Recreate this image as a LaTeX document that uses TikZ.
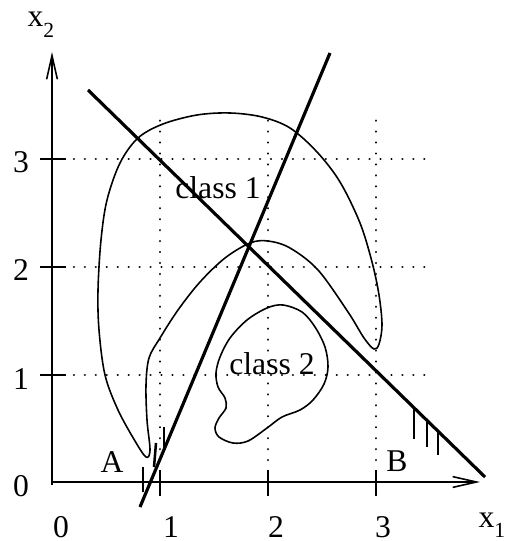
\documentclass[tikz,border=0pt]{standalone}
\usepackage{fontspec}
\setmainfont{Liberation Serif}
\usetikzlibrary{arrows.meta}
\newcommand{\subtwo}[1]{\raisebox{-3.3pt}{\fontsize{6.8}{7}\selectfont #1}}
\begin{document}
\begin{tikzpicture}[x=0.316pt,y=-0.316pt,
  axisline/.style={line width=0.7pt,-{Straight Barb[length=7.5pt,width=3.4pt,line width=0.5pt]}},
  gridline/.style={line width=0.75pt,dash pattern=on 0.01pt off 3.45pt,line cap=round},
  tickline/.style={line width=0.7pt},
  decision/.style={line width=1.0pt},
  hatch/.style={line width=0.8pt},
  boundary/.style={line width=0.5pt},
  lbl/.style={inner sep=0pt,anchor=base,font=\fontsize{10}{12}\selectfont}]
\useasboundingbox (0,0) rectangle (505,541);
% grid
\foreach \gx in {160,268,376} \draw[gridline] (\gx,482) -- (\gx,115);
\foreach \gy in {159,267,375} \draw[gridline] (52,\gy) -- (432,\gy);
% ticks
\foreach \gx in {160,268,376} \draw[tickline] (\gx,470) -- (\gx,496);
\foreach \gy in {159,267,375} \draw[tickline] (40,\gy) -- (66,\gy);
% axes
\coordinate (O) at (52,482);
\coordinate (Oy) at (52,485);
\coordinate (X1end) at (480,482);
\coordinate (X2end) at (52,52);
\draw[axisline] (O) -- (X1end);
\draw[axisline] (Oy) -- (X2end);
% axis labels
\node[lbl,anchor=base west] (x2lbl) at (27,27) {x\subtwo{2}};
\node[lbl,anchor=base west] (x1lbl) at (478,527) {x\subtwo{1}};
\node[lbl] (t0) at (61,537) {0};
\node[lbl] (t1) at (171,537) {1};
\node[lbl] (t2) at (276,537) {2};
\node[lbl] (t3) at (383,537) {3};
\node[lbl] (v3) at (21,173) {3};
\node[lbl] (v2) at (21,281) {2};
\node[lbl] (v1) at (21,389) {1};
\node[lbl] (v0) at (21,496) {0};
% class 1 region
\draw[boundary] plot[smooth cycle,tension=0.55] coordinates {
 (146,457) (135,441) (118,410) (105,375) (99,330) (98,290) (101,240) (107,200)
 (120,163) (138,138) (163,124) (197,115) (230,113) (262,117) (290,128) (317,152)
 (340,182) (360,223) (372,262) (379,295) (382,325) (379,344) (374,349) (364,338)
 (348,312) (318,270) (290,248) (268,241) (250,243) (225,258) (200,282) (178,310)
 (160,338) (149,358) (146,385) (147,420) (150,450)};
% class 2 region
\draw[boundary] plot[smooth cycle,tension=0.55] coordinates {
 (283,305) (267,308) (247,320) (230,338) (220,357) (216,373) (218,387) (225,398)
 (226,408) (219,418) (215,428) (219,437) (233,443) (248,441) (267,428) (282,417)
 (300,410) (313,400) (324,384) (328,367) (325,347) (315,327) (302,312)};
% decision lines
\coordinate (L1a) at (88,90);
\coordinate (L1b) at (485,477);
\coordinate (L2a) at (140,507);
\coordinate (L2b) at (330,53);
\draw[decision] (L1a) -- (L1b);
\draw[decision] (L2a) -- (L2b);
% hatches
\draw[hatch] (414,408) -- (414,439);
\draw[hatch] (427,420) -- (427,447);
\draw[hatch] (438,430) -- (438,455);
\draw[hatch] (143,467) -- (143,492);
\draw[hatch] (156,443) -- (154,467);
\draw[hatch] (164,427) -- (164,448);
% labels
\node[lbl] (c1) at (218,199) {class 1};
\node[lbl] (c2) at (272,374) {class 2};
\node[lbl] (A) at (112,472) {A};
\node[lbl] (B) at (397,471) {B};
\end{tikzpicture}
\end{document}
